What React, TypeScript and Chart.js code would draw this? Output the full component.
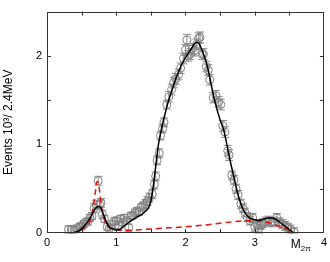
import React, { useEffect, useRef } from "react";
import { Chart, registerables } from "chart.js";

Chart.register(...registerables);

// Measured points (M2π, events in 10^3 / 2.4 MeV) with errors
const dataX = [
  0.31, 0.35, 0.39, 0.43, 0.47, 0.5, 0.53, 0.56, 0.59, 0.62, 0.65, 0.68, 0.71, 0.74, 0.76, 0.78, 0.8, 0.83,
  0.87, 0.9, 0.94, 0.97, 1.0, 1.03, 1.06, 1.09, 1.12, 1.15, 1.18, 1.21, 1.24, 1.27, 1.3, 1.33, 1.36, 1.39,
  1.42, 1.45, 1.48, 1.52, 1.55, 1.57, 1.59, 1.62, 1.64, 1.67, 1.69, 1.73, 1.76, 1.8, 1.83, 1.86, 1.9, 1.93,
  1.97, 2.0, 2.02, 2.04, 2.07, 2.1, 2.13, 2.16, 2.19, 2.21, 2.24, 2.26, 2.3, 2.33, 2.35, 2.4, 2.44, 2.48,
  2.51, 2.54, 2.57, 2.61, 2.63, 2.67, 2.7, 2.73, 2.76, 2.8, 2.83, 2.86, 2.89, 2.93, 2.97, 3.0, 3.03, 3.06,
  3.09, 3.12, 3.16, 3.2, 3.24, 3.28, 3.32, 3.36, 3.4, 3.44, 3.48, 3.52, 3.57,
];
const dataY = [
  0.04, 0.04, 0.03, 0.05, 0.07, 0.08, 0.1, 0.12, 0.13, 0.17, 0.19, 0.28, 0.32, 0.59, 0.32, 0.34, 0.21, 0.16,
  0.07, 0.05, 0.1, 0.13, 0.14, 0.09, 0.16, 0.12, 0.17, 0.14, 0.06, 0.19, 0.2, 0.23, 0.25, 0.24, 0.29, 0.31,
  0.33, 0.36, 0.4, 0.44, 0.55, 0.64, 0.82, 0.9, 1.1, 1.18, 1.25, 1.45, 1.54, 1.62, 1.7, 1.74, 1.79, 1.86,
  1.97, 2.07, 2.18, 2.0, 2.02, 2.08, 2.06, 2.13, 2.2, 2.21, 2.02, 2.02, 1.88, 1.84, 1.73, 1.53, 1.55, 1.48,
  1.45, 1.21, 1.14, 0.93, 0.88, 0.65, 0.6, 0.5, 0.43, 0.33, 0.28, 0.23, 0.18, 0.14, 0.17, 0.07, 0.1, 0.05,
  0.09, 0.11, 0.13, 0.14, 0.12, 0.13, 0.17, 0.12, 0.1, 0.08, 0.06, 0.04, 0.01,
];
const dataErr = [
  0.04, 0.04, 0.04, 0.04, 0.04, 0.04, 0.04, 0.04, 0.04, 0.04, 0.04, 0.05, 0.05, 0.05, 0.05, 0.05, 0.05, 0.04,
  0.04, 0.04, 0.04, 0.04, 0.04, 0.04, 0.04, 0.04, 0.04, 0.04, 0.04, 0.04, 0.04, 0.04, 0.04, 0.04, 0.04, 0.04,
  0.05, 0.05, 0.05, 0.05, 0.05, 0.05, 0.05, 0.05, 0.05, 0.05, 0.05, 0.05, 0.06, 0.06, 0.06, 0.06, 0.06, 0.06,
  0.06, 0.06, 0.06, 0.06, 0.06, 0.06, 0.06, 0.06, 0.06, 0.06, 0.06, 0.06, 0.06, 0.06, 0.06, 0.06, 0.06, 0.06,
  0.06, 0.06, 0.06, 0.06, 0.06, 0.05, 0.05, 0.05, 0.05, 0.05, 0.05, 0.05, 0.05, 0.05, 0.05, 0.05, 0.05, 0.05,
  0.05, 0.05, 0.05, 0.05, 0.05, 0.05, 0.05, 0.05, 0.05, 0.05, 0.05, 0.05, 0.05,
];

// Total fit (solid black)
const fitX = [
  0.38, 0.45, 0.5, 0.55, 0.6, 0.65, 0.7, 0.74, 0.78, 0.82, 0.86, 0.9, 0.95, 1.0, 1.05, 1.1, 1.2, 1.3, 1.37,
  1.43, 1.47, 1.5, 1.53, 1.57, 1.61, 1.66, 1.7, 1.75, 1.8, 1.85, 1.9, 1.95, 2.0, 2.05, 2.1, 2.15, 2.18, 2.22,
  2.26, 2.3, 2.35, 2.4, 2.45, 2.5, 2.55, 2.6, 2.65, 2.7, 2.75, 2.8, 2.85, 2.9, 2.95, 3.0, 3.05, 3.1, 3.15,
  3.2, 3.25, 3.3, 3.35, 3.4, 3.45, 3.5, 3.55,
];
const fitY = [
  0.0, 0.02, 0.05, 0.09, 0.14, 0.21, 0.28, 0.3, 0.28, 0.2, 0.12, 0.07, 0.045, 0.035, 0.04, 0.07, 0.13, 0.18,
  0.21, 0.25, 0.29, 0.36, 0.5, 0.75, 1.0, 1.2, 1.33, 1.48, 1.6, 1.72, 1.82, 1.91, 1.98, 2.04, 2.1, 2.15,
  2.15, 2.1, 2.02, 1.93, 1.76, 1.57, 1.41, 1.28, 1.17, 0.99, 0.8, 0.63, 0.46, 0.33, 0.24, 0.19, 0.16, 0.15,
  0.14, 0.15, 0.16, 0.17, 0.17, 0.155, 0.13, 0.1, 0.07, 0.04, 0.01,
];

// Background component (dashed red)
const bgX = [
  0.35, 0.45, 0.55, 0.6, 0.64, 0.67, 0.7, 0.72, 0.74, 0.76, 0.78, 0.81, 0.85, 0.9, 0.95, 1.0, 1.1, 1.2, 1.4,
  1.6, 1.8, 2.0, 2.2, 2.4, 2.6, 2.8, 3.0, 3.1, 3.2, 3.3, 3.4, 3.5, 3.57,
];
const bgY = [
  0.0, 0.02, 0.06, 0.1, 0.18, 0.3, 0.47, 0.58, 0.58, 0.47, 0.33, 0.2, 0.11, 0.06, 0.04, 0.035, 0.03, 0.03,
  0.04, 0.05, 0.06, 0.07, 0.085, 0.1, 0.12, 0.135, 0.14, 0.13, 0.115, 0.09, 0.06, 0.03, 0.0,
];

const xTickLabels = [0, 1, 2, 3, 4];
const yTickLabels = [0, 1, 2];
const yTitle = "Events 10\u00B3/ 2.4MeV";
const xTitleMain = "M";
const xTitleSub = "2\u03C0";

const FONT = "'Liberation Sans', Arial, sans-serif";

const framePlugin = {
  id: "frame",
  beforeDatasetsDraw(chart: any) {
    const { ctx, scales } = chart;
    const x = scales.x;
    const y = scales.y;
    ctx.save();
    ctx.strokeStyle = "#8a8a8a";
    ctx.lineWidth = 1;
    for (let i = 0; i < dataX.length; i++) {
      const px = x.getPixelForValue(dataX[i]);
      const p1 = y.getPixelForValue(Math.max(0, dataY[i] - dataErr[i]));
      const p2 = y.getPixelForValue(dataY[i] + dataErr[i]);
      ctx.beginPath();
      ctx.moveTo(px, p1);
      ctx.lineTo(px, p2);
      ctx.moveTo(px - 4, p1);
      ctx.lineTo(px + 4, p1);
      ctx.moveTo(px - 4, p2);
      ctx.lineTo(px + 4, p2);
      ctx.stroke();
    }
    ctx.restore();
  },
  afterDatasetsDraw(chart: any) {
    const { ctx, chartArea, scales } = chart;
    const { left, right, top, bottom } = chartArea;
    const x = scales.x;
    const y = scales.y;
    ctx.save();
    ctx.strokeStyle = "#333";
    ctx.lineWidth = 1;
    ctx.strokeRect(Math.round(left) + 0.5, Math.round(top) + 0.5, Math.round(right - left) - 1, Math.round(bottom - top) - 1);
    ctx.beginPath();
    for (let v = 0.5; v < 4; v += 0.5) {
      const px = Math.round(x.getPixelForValue(v)) + 0.5;
      ctx.moveTo(px, bottom);
      ctx.lineTo(px, bottom - 4);
      ctx.moveTo(px, top);
      ctx.lineTo(px, top + 4);
    }
    for (let v = 0.5; v < 2.5; v += 0.5) {
      const py = Math.round(y.getPixelForValue(v)) + 0.5;
      ctx.moveTo(left, py);
      ctx.lineTo(left + 4, py);
      ctx.moveTo(right, py);
      ctx.lineTo(right - 4, py);
    }
    ctx.stroke();
    // x-axis title with subscript
    ctx.fillStyle = "#000";
    ctx.textBaseline = "alphabetic";
    ctx.textAlign = "left";
    ctx.font = `12px ${FONT}`;
    const mx = x.getPixelForValue(3.52);
    ctx.fillText(xTitleMain, mx, 248);
    const mw = ctx.measureText(xTitleMain).width;
    ctx.font = `8px ${FONT}`;
    ctx.fillText(xTitleSub, mx + mw, 251);
    ctx.restore();
  },
};

export default function App() {
  const ref = useRef<HTMLCanvasElement | null>(null);
  useEffect(() => {
    document.body.style.margin = "0";
    const canvas = ref.current;
    if (!canvas) return;
    const chart = new Chart(canvas, {
      type: "scatter",
      data: {
        datasets: [
          {
            type: "line",
            label: "fit",
            data: fitX.map((v, i) => ({ x: v, y: fitY[i] })),
            borderColor: "#000",
            borderWidth: 1.5,
            pointRadius: 0,
            fill: false,
            cubicInterpolationMode: "monotone",
          } as any,
          {
            type: "line",
            label: "background",
            data: bgX.map((v, i) => ({ x: v, y: bgY[i] })),
            borderColor: "#e8120c",
            borderWidth: 1.5,
            borderDash: [6, 4],
            pointRadius: 0,
            fill: false,
            cubicInterpolationMode: "monotone",
          } as any,
          {
            label: "data",
            data: dataX.map((v, i) => ({ x: v, y: dataY[i] })),
            pointRadius: 4,
            pointStyle: "circle",
            borderColor: "#808080",
            backgroundColor: "rgba(0,0,0,0)",
            borderWidth: 1,
            showLine: false,
          },
        ],
      },
      options: {
        animation: false,
        responsive: false,
        events: [],
        layout: { padding: { top: 1, right: 3, left: 0, bottom: 0 } },
        plugins: { legend: { display: false }, tooltip: { enabled: false } },
        scales: {
          x: {
            type: "linear",
            min: 0,
            max: 4,
            grid: { display: false, drawTicks: false },
            border: { display: false },
            afterFit: (s: any) => {
              s.height = 29;
            },
            afterBuildTicks: (s: any) => {
              s.ticks = xTickLabels.map((v) => ({ value: v }));
            },
            ticks: {
              color: "#000",
              font: { size: 11, family: FONT },
              padding: 3,
              maxRotation: 0,
              autoSkip: false,
              callback: (v: any) => String(v),
            },
          },
          y: {
            type: "linear",
            min: 0,
            max: 2.5,
            grid: { display: false, drawTicks: false },
            border: { display: false },
            afterFit: (s: any) => {
              s.width = 47;
            },
            afterBuildTicks: (s: any) => {
              s.ticks = yTickLabels.map((v) => ({ value: v }));
            },
            title: {
              display: true,
              text: yTitle,
              color: "#000",
              font: { size: 12, family: FONT },
              padding: { top: 1, bottom: 0 },
            },
            ticks: {
              color: "#000",
              font: { size: 11, family: FONT },
              padding: 5,
              callback: (v: any) => String(v),
            },
          },
        },
      },
      plugins: [framePlugin],
    });
    return () => chart.destroy();
  }, []);
  return <canvas ref={ref} width={330} height={262} style={{ display: "block" }} />;
}
